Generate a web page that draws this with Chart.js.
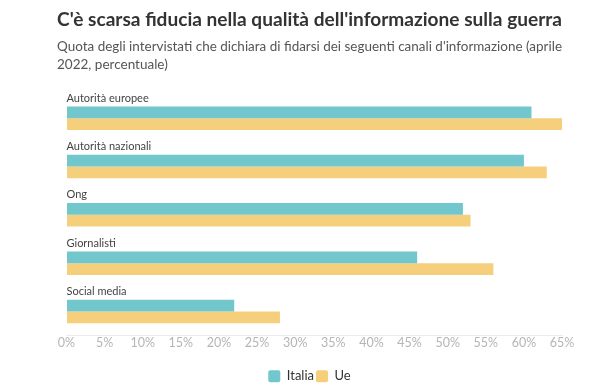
<!DOCTYPE html>
<html>
<head>
<meta charset="utf-8">
<script src="https://cdn.jsdelivr.net/npm/chart.js@4"></script>
<style>
  html, body { margin: 0; padding: 0; background: #fff; }
  #wrap { width: 604px; height: 388px; }
</style>
</head>
<body>
<div id="wrap"><canvas id="chart" width="604" height="388"></canvas></div>
<script>
// data
const categories = ["Autorità europee", "Autorità nazionali", "Ong", "Giornalisti", "Social media"];
const italia = [61, 60, 52, 46, 22];
const ue = [65, 63, 53, 56, 28];
const seriesNames = ["Italia", "Ue"];

const teal = "#72c7cc";
const yellow = "#f5cf7c";
const fontFamily = "Lato, 'Open Sans', sans-serif";

const ctx = document.getElementById("chart");

new Chart(ctx, {
  type: "bar",
  data: {
    labels: categories,
    datasets: [
      { label: seriesNames[0], data: italia, backgroundColor: teal },
      { label: seriesNames[1], data: ue, backgroundColor: yellow },
    ],
  },
  options: {
    indexAxis: "y",
    responsive: false,
    animation: false,
    // legend box keeps ~10px of empty space under the items, let it hang off the bottom
    layout: { padding: { left: 57, right: 42, top: 0, bottom: -4.8 } },
    datasets: {
      bar: { categoryPercentage: 0.487, barPercentage: 1 },
    },
    scales: {
      x: {
        min: 0,
        max: 65,
        ticks: {
          stepSize: 5,
          padding: 0,
          color: "#b5b5b5",
          font: { family: fontFamily, size: 12.5 },
          callback: (v) => v + "%",
        },
        grid: { drawOnChartArea: false, tickLength: 0, color: "#ececec" },
        border: { color: "#ececec" },
        // leave room between tick labels and legend
        afterFit: (scale) => {
          scale.height = 32.2;
        },
      },
      y: {
        ticks: {
          mirror: true,
          padding: 0,
          labelOffset: -20,
          color: "#444",
          font: { family: fontFamily, size: 11 },
        },
        grid: { display: false },
        border: { display: false },
        afterFit: (scale) => {
          scale.width = 9.5;
          scale.paddingTop = 0;
          scale.paddingBottom = 0;
        },
      },
    },
    plugins: {
      title: {
        display: true,
        text: "C'è scarsa fiducia nella qualità dell'informazione sulla guerra",
        align: "start",
        color: "#333",
        font: { family: fontFamily, size: 19.5, weight: "bold", lineHeight: 1.2 },
        padding: { top: 8, bottom: 6 },
      },
      subtitle: {
        display: true,
        text: [
          "Quota degli intervistati che dichiara di fidarsi dei seguenti canali d'informazione (aprile",
          "2022, percentuale)",
        ],
        align: "start",
        color: "#555",
        font: { family: fontFamily, size: 13.5, lineHeight: 1.33 },
        padding: { top: 0, bottom: 20.8 },
      },
      legend: {
        position: "bottom",
        labels: {
          boxWidth: 12,
          boxHeight: 12,
          padding: 2,
          color: "#333",
          useBorderRadius: true,
          borderRadius: 2,
          font: { family: fontFamily, size: 13 },
        },
      },
      tooltip: { enabled: false },
    },
  },
});
</script>
</body>
</html>
